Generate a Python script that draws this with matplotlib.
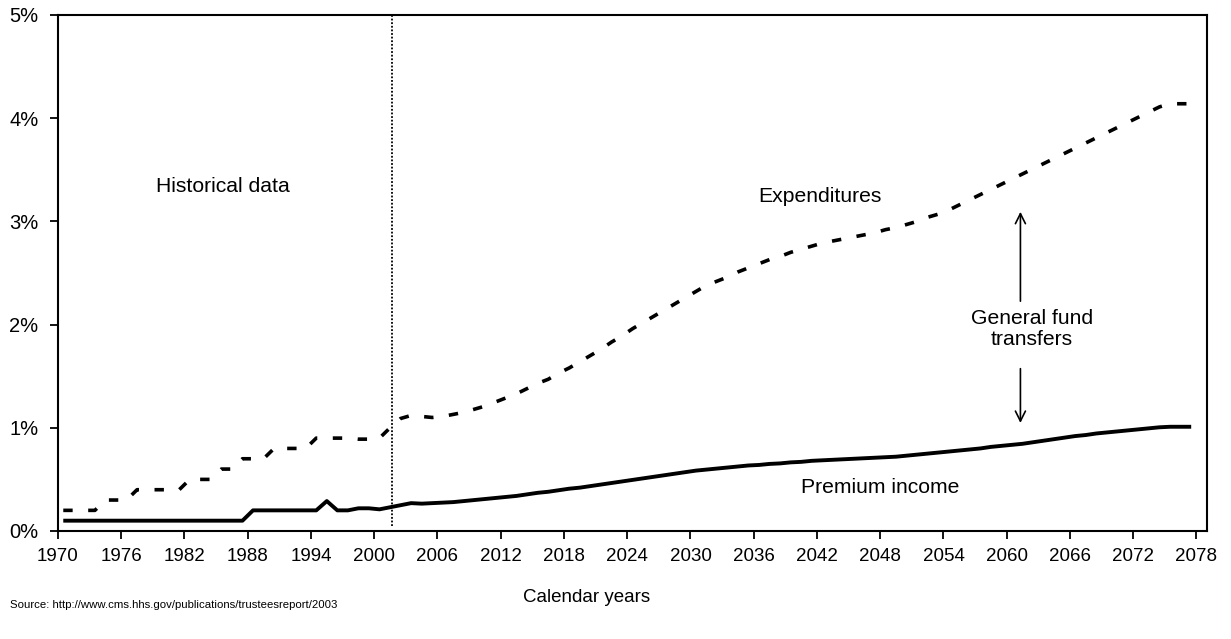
import numpy as np
import matplotlib
matplotlib.use("Agg")
import matplotlib.pyplot as plt
from matplotlib.ticker import FuncFormatter

plt.rcParams['font.family'] = ['Liberation Sans', 'DejaVu Sans']

# annual values, % of GDP, 1970..2077
expenditures = [
    0.20, 0.20, 0.20, 0.20, 0.30, 0.30, 0.30, 0.40, 0.40, 0.40,  # 1970s
    0.40, 0.40, 0.50, 0.50, 0.50, 0.60, 0.60, 0.70, 0.70, 0.70,  # 1980s
    0.80, 0.80, 0.80, 0.80, 0.90, 0.90, 0.90, 0.90, 0.89, 0.89,  # 1990s
    0.90, 1.00, 1.09, 1.12, 1.11, 1.10, 1.11, 1.13, 1.15, 1.18,  # 2000s
    1.21, 1.25, 1.29, 1.33, 1.38, 1.43, 1.47, 1.53, 1.58, 1.64,  # 2010s
    1.70, 1.76, 1.83, 1.89, 1.96, 2.02, 2.08, 2.14, 2.20, 2.26,  # 2020s
    2.32, 2.38, 2.42, 2.46, 2.51, 2.55, 2.59, 2.63, 2.66, 2.70,  # 2030s
    2.73, 2.76, 2.79, 2.81, 2.83, 2.85, 2.87, 2.89, 2.92, 2.94,  # 2040s
    2.97, 3.00, 3.04, 3.07, 3.11, 3.16, 3.21, 3.26, 3.31, 3.36,  # 2050s
    3.41, 3.46, 3.51, 3.56, 3.61, 3.66, 3.71, 3.76, 3.81, 3.86,  # 2060s
    3.91, 3.96, 4.01, 4.06, 4.11, 4.14, 4.14, 4.14,              # 2070s
]
premium_income = [
    0.10, 0.10, 0.10, 0.10, 0.10, 0.10, 0.10, 0.10, 0.10, 0.10,
    0.10, 0.10, 0.10, 0.10, 0.10, 0.10, 0.10, 0.10, 0.20, 0.20,
    0.20, 0.20, 0.20, 0.20, 0.20, 0.29, 0.20, 0.20, 0.22, 0.22,
    0.21, 0.23, 0.25, 0.27, 0.265, 0.27, 0.275, 0.28, 0.29, 0.30,
    0.31, 0.32, 0.33, 0.34, 0.355, 0.37, 0.38, 0.395, 0.41, 0.42,
    0.435, 0.45, 0.465, 0.48, 0.495, 0.51, 0.525, 0.54, 0.555, 0.57,
    0.585, 0.595, 0.605, 0.615, 0.625, 0.635, 0.64, 0.65, 0.655, 0.665,
    0.67, 0.68, 0.685, 0.69, 0.695, 0.70, 0.705, 0.71, 0.715, 0.72,
    0.73, 0.74, 0.75, 0.76, 0.77, 0.78, 0.79, 0.80, 0.815, 0.825,
    0.835, 0.845, 0.86, 0.875, 0.89, 0.905, 0.92, 0.93, 0.945, 0.955,
    0.965, 0.975, 0.985, 0.995, 1.005, 1.01, 1.01, 1.01,
]
years = np.arange(1970, 1970 + len(expenditures))
tick_years = list(range(1970, 2079, 6))
y_ticks = [0, 1, 2, 3, 4, 5]
historical_end = 2001.7

fig = plt.figure(figsize=(12.31, 6.39), dpi=100)
ax = fig.add_axes([58 / 1231, 108 / 639, 1149 / 1231, 516 / 639])

# annual values drawn at mid-year
x = years + 0.5
ax.plot(x, expenditures, color='black', lw=2.6, linestyle=(0, (2.6, 4.3)))
ax.plot(x, premium_income, color='black', lw=2.8, solid_capstyle='butt')
ax.axvline(historical_end, ymin=0.01, color='black', lw=1.3, linestyle=(0, (1, 1)))

ax.set_xlim(1970, 2079)
ax.set_ylim(0, 5)
ax.set_xticks(tick_years)
ax.set_xticklabels([str(t) for t in tick_years])
ax.set_yticks(y_ticks)
ax.yaxis.set_major_formatter(FuncFormatter(lambda v, p: '%d%%' % v))
ax.tick_params(direction='out', length=6, width=1.3, color='black')
ax.tick_params(axis='y', labelsize=14.5, pad=8)
ax.tick_params(axis='x', labelsize=13.5, pad=6)
for s in ax.spines.values():
    s.set_linewidth(1.5)

ax.text(1985.6, 3.34, 'Historical data', fontsize=15.2, ha='center', va='center')
ax.text(2042.3, 3.24, 'Expenditures', fontsize=15.2, ha='center', va='center')
ax.text(2048.0, 0.42, 'Premium income', fontsize=15.2, ha='center', va='center')
ax.text(2062.4, 1.96, 'General fund\ntransfers', fontsize=15.2, ha='center', va='center',
        linespacing=1.15)

ax.annotate('', xy=(2061.3, 3.12), xytext=(2061.3, 2.2),
            arrowprops=dict(arrowstyle='->', lw=1.2, color='black', mutation_scale=18))
ax.annotate('', xy=(2061.3, 1.02), xytext=(2061.3, 1.6),
            arrowprops=dict(arrowstyle='->', lw=1.2, color='black', mutation_scale=18))

fig.text(587 / 1231, 1 - 597 / 639, 'Calendar years', fontsize=13.5, ha='center', va='center')
fig.text(10 / 1231, 1 - 605 / 639, 'Source: http://www.cms.hhs.gov/publications/trusteesreport/2003',
         fontsize=8.2, ha='left', va='center')

fig.savefig('out.png', dpi=100)
